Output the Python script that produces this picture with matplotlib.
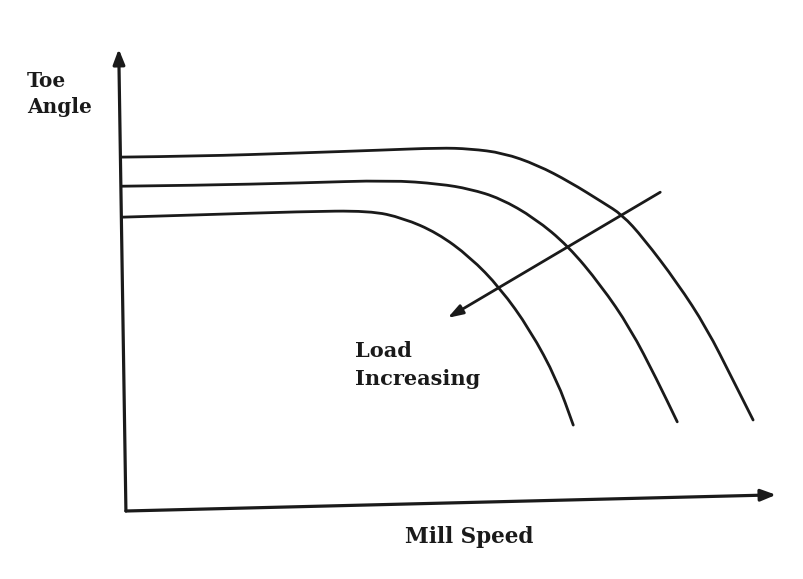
import matplotlib
matplotlib.use("Agg")
import matplotlib.pyplot as plt
from matplotlib.path import Path
from matplotlib.patches import PathPatch

# Schematic curves: mill speed (x, 0-100) vs toe angle (y, 0-100)
top_x = [0.0, 11.9, 27.2, 39.4, 48.6, 53.2, 58.3, 63.5, 68.5, 73.5, 76.5, 79.7, 84.9, 89.4, 93.4, 96.5]
top_y = [76.6, 76.8, 77.5, 78.1, 78.6, 78.4, 77.5, 74.9, 71.2, 66.8, 64.1, 59.1, 49.4, 39.6, 28.4, 19.7]

mid_x = [0.0, 11.9, 27.2, 41.0, 48.6, 53.2, 57.8, 63.1, 68.2, 73.2, 77.7, 81.8, 84.9]
mid_y = [70.3, 70.5, 71.0, 71.6, 70.8, 69.7, 67.7, 63.4, 57.4, 48.9, 39.6, 28.4, 19.3]

low_x = [0.0, 11.9, 27.2, 37.9, 43.0, 48.2, 53.2, 57.8, 62.4, 66.5, 69.0]
low_y = [63.6, 64.1, 64.8, 65.0, 63.4, 60.2, 55.0, 48.3, 39.2, 28.4, 18.6]

arrow_start = (82.3, 69.0)
arrow_end = (49.8, 41.8)

xaxis_start = (0.6, 0.0)
xaxis_end = (100.0, 3.5)
yaxis_start = (0.6, 0.0)
yaxis_end = (-0.5, 100.0)

x_label = "Mill Speed"
y_label_lines = ["Toe", "Angle"]
note_lines = ["Load", "Increasing"]

W, H = 804, 579
fig = plt.figure(figsize=(W / 100, H / 100), dpi=100)
ax = fig.add_axes([122 / W, 68 / H, 654 / W, 462 / H])
ax.set_xlim(0, 100)
ax.set_ylim(0, 100)
ax.axis("off")

lc = "#1a1a1a"


def smooth_path(xs, ys):
    # quadratic B-spline style rendering through the read points
    pts = list(zip(xs, ys))
    verts = [pts[0]]
    codes = [Path.MOVETO]
    for i in range(1, len(pts) - 1):
        mx = (pts[i][0] + pts[i + 1][0]) / 2
        my = (pts[i][1] + pts[i + 1][1]) / 2
        verts += [pts[i], (mx, my)]
        codes += [Path.CURVE3, Path.CURVE3]
    verts.append(pts[-1])
    codes.append(Path.LINETO)
    return Path(verts, codes)


for xs, ys in [(top_x, top_y), (mid_x, mid_y), (low_x, low_y)]:
    ax.add_patch(PathPatch(smooth_path(xs, ys), facecolor="none", edgecolor=lc, lw=2.0,
                           capstyle="round", joinstyle="round", clip_on=False))

axis_props = dict(arrowstyle="-|>,head_length=0.9,head_width=0.35", color=lc, lw=2.3, shrinkA=0, shrinkB=0)
ax.annotate("", xy=xaxis_end, xytext=xaxis_start, arrowprops=axis_props, annotation_clip=False)
ax.annotate("", xy=yaxis_end, xytext=yaxis_start, arrowprops=axis_props, annotation_clip=False)

ax.annotate("", xy=arrow_end, xytext=arrow_start,
            arrowprops=dict(arrowstyle="-|>,head_length=0.9,head_width=0.3", color=lc, lw=2.0,
                            shrinkA=0, shrinkB=0), annotation_clip=False)

font = dict(family="DejaVu Serif", color="#1a1a1a", fontweight="bold")
fig.text(27 / W, 1 - 87 / H, y_label_lines[0], fontsize=14.5, ha="left", va="baseline", **font)
fig.text(27 / W, 1 - 113 / H, y_label_lines[1], fontsize=14.5, ha="left", va="baseline", **font)
fig.text(355 / W, 1 - 357 / H, note_lines[0], fontsize=15, ha="left", va="baseline", **font)
fig.text(355 / W, 1 - 385 / H, note_lines[1], fontsize=15, ha="left", va="baseline", **font)
fig.text(405 / W, 1 - 543 / H, x_label, fontsize=15.5, ha="left", va="baseline", **font)

fig.savefig("out.png", dpi=100, facecolor="white")
